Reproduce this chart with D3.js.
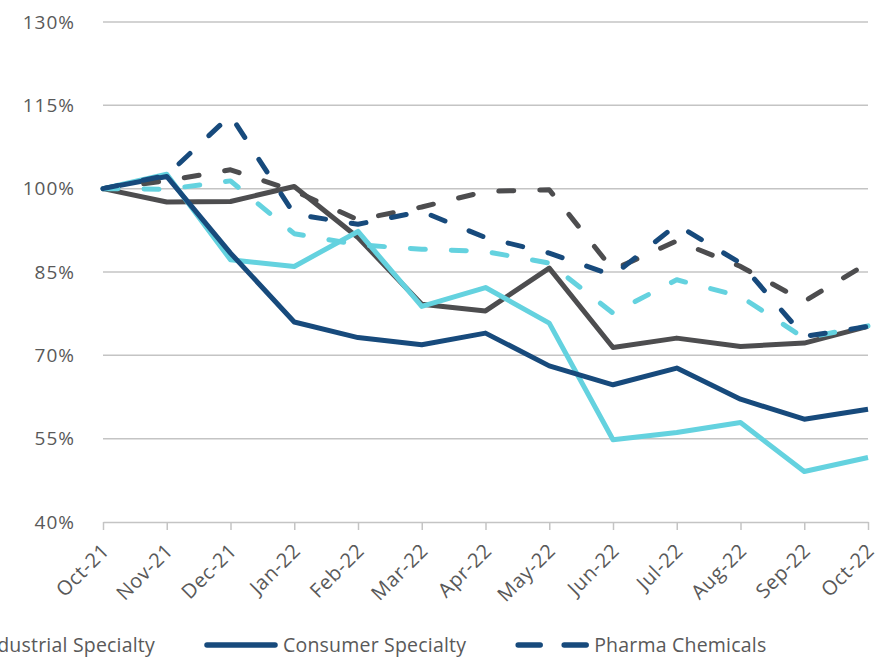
<!DOCTYPE html>
<html><head><meta charset="utf-8">
<script src="https://cdn.jsdelivr.net/npm/d3@7"></script>
<style>html,body{margin:0;padding:0;background:#fff;overflow:hidden}text{font-family:"Open Sans",sans-serif;fill:#595959}</style>
</head><body>
<svg id="c" width="884" height="658"></svg>
<script>
const months = ["Oct-21","Nov-21","Dec-21","Jan-22","Feb-22","Mar-22","Apr-22","May-22","Jun-22","Jul-22","Aug-22","Sep-22","Oct-22"];
const yTicks = [40,55,70,85,100,115,130];
const industrialSpecialty = [100,97.6,97.7,100.4,91.2,79.2,78.0,85.7,71.4,73.1,71.6,72.2,75.2];
const consumerSpecialty   = [100,102.2,88.4,76.0,73.2,71.9,74.0,68.1,64.7,67.7,62.1,58.5,60.3];
const pharmaChemicals     = [100,102.4,113.2,95.4,93.6,95.9,91.2,88.4,84.4,93.5,86.6,73.4,75.2];
const cyanSolid           = [100,102.6,87.2,86.0,92.3,78.8,82.2,75.8,54.8,56.1,57.9,49.1,51.6];
const grayDashed          = [100,101.4,103.4,99.6,94.4,96.7,99.5,99.8,85.4,90.6,86.0,79.7,86.6];
const cyanDashed          = [100,99.9,101.4,91.9,89.9,89.1,88.7,86.6,77.6,83.6,80.6,73.1,75.3];

const GRAY="#4d4d4f", BLUE="#174a7c", CYAN="#64d2df";
const series = [
  {name:"Industrial Specialty", values:industrialSpecialty, color:GRAY, dash:false},
  {name:"", values:cyanSolid, color:CYAN, dash:false},
  {name:"Consumer Specialty", values:consumerSpecialty, color:BLUE, dash:false},
  {name:"", values:grayDashed, color:GRAY, dash:true},
  {name:"", values:cyanDashed, color:CYAN, dash:true},
  {name:"Pharma Chemicals", values:pharmaChemicals, color:BLUE, dash:true}
];

const svg = d3.select("#c");
const x = d3.scalePoint().domain(months).range([103,868]);
const y = d3.scaleLinear().domain([40,130]).range([522,22]);

// gridlines
svg.append("g").selectAll("line").data(yTicks.filter(t=>t>40)).join("line")
  .attr("x1",103).attr("x2",868).attr("y1",d=>y(d)).attr("y2",d=>y(d))
  .attr("stroke","#c4c4c4").attr("stroke-width",1.5);

// y axis labels
const yAxis = d3.axisLeft(y).tickValues(yTicks).tickFormat(d=>d+"%").tickSize(0).tickPadding(0);
const ya = svg.append("g").attr("transform","translate(75,0)").call(yAxis);
ya.select(".domain").remove();
ya.selectAll("text").attr("font-size",19).attr("font-family","'Open Sans',sans-serif").attr("fill","#595959").attr("letter-spacing","1px");

// x axis
const xAxis = d3.axisBottom(x).tickSize(8).tickSizeOuter(0);
const xa = svg.append("g").attr("transform","translate(0,522)").call(xAxis);
xa.select(".domain").attr("stroke","#c4c4c4").attr("stroke-width",1.5);
xa.selectAll(".tick line").attr("stroke","#c4c4c4").attr("stroke-width",1.5);
xa.selectAll("text").attr("font-size",20).attr("font-family","'Open Sans',sans-serif").attr("fill","#595959")
  .attr("letter-spacing","0.6px")
  .attr("text-anchor","end").attr("transform","translate(7,30) rotate(-45)").attr("dy","0").attr("y",0).attr("x",0);

// lines
const line = d3.line().x((d,i)=>x(months[i])).y(d=>y(d));
svg.append("g").selectAll("path").data(series).join("path")
  .attr("d",d=>line(d.values)).attr("fill","none").attr("stroke",d=>d.color)
  .attr("stroke-width",5).attr("stroke-linejoin","round")
  .attr("stroke-linecap",d=>d.dash?"round":"butt")
  .attr("stroke-dasharray",d=>d.dash?"15 26":null);

// legend
const lg = svg.append("g");
const ly = 645;
const legendItems = [series[0],series[2],series[5]];
const t0 = lg.append("text").attr("x",155).attr("y",ly).attr("dy","0.35em").attr("text-anchor","end")
  .attr("font-size",19.5).attr("letter-spacing","0.2px").text(legendItems[0].name);
const w0 = t0.node().getComputedTextLength();
lg.append("line").attr("x1",155-w0-10-68).attr("x2",155-w0-10).attr("y1",ly).attr("y2",ly)
  .attr("stroke",GRAY).attr("stroke-width",5).attr("stroke-linecap","round");
let cx = 207;
[legendItems[1],legendItems[2]].forEach(s=>{
  lg.append("line").attr("x1",cx).attr("x2",cx+68).attr("y1",ly).attr("y2",ly)
    .attr("stroke",s.color).attr("stroke-width",5.5)
    .attr("stroke-linecap","round").attr("stroke-dasharray",s.dash?"22 24":null);
  const t = lg.append("text").attr("x",cx+76).attr("y",ly).attr("dy","0.35em").attr("font-size",19.5)
    .attr("letter-spacing","0.2px").text(s.name);
  cx = cx + 76 + t.node().getComputedTextLength() + 52;
});
</script>
</body></html>
